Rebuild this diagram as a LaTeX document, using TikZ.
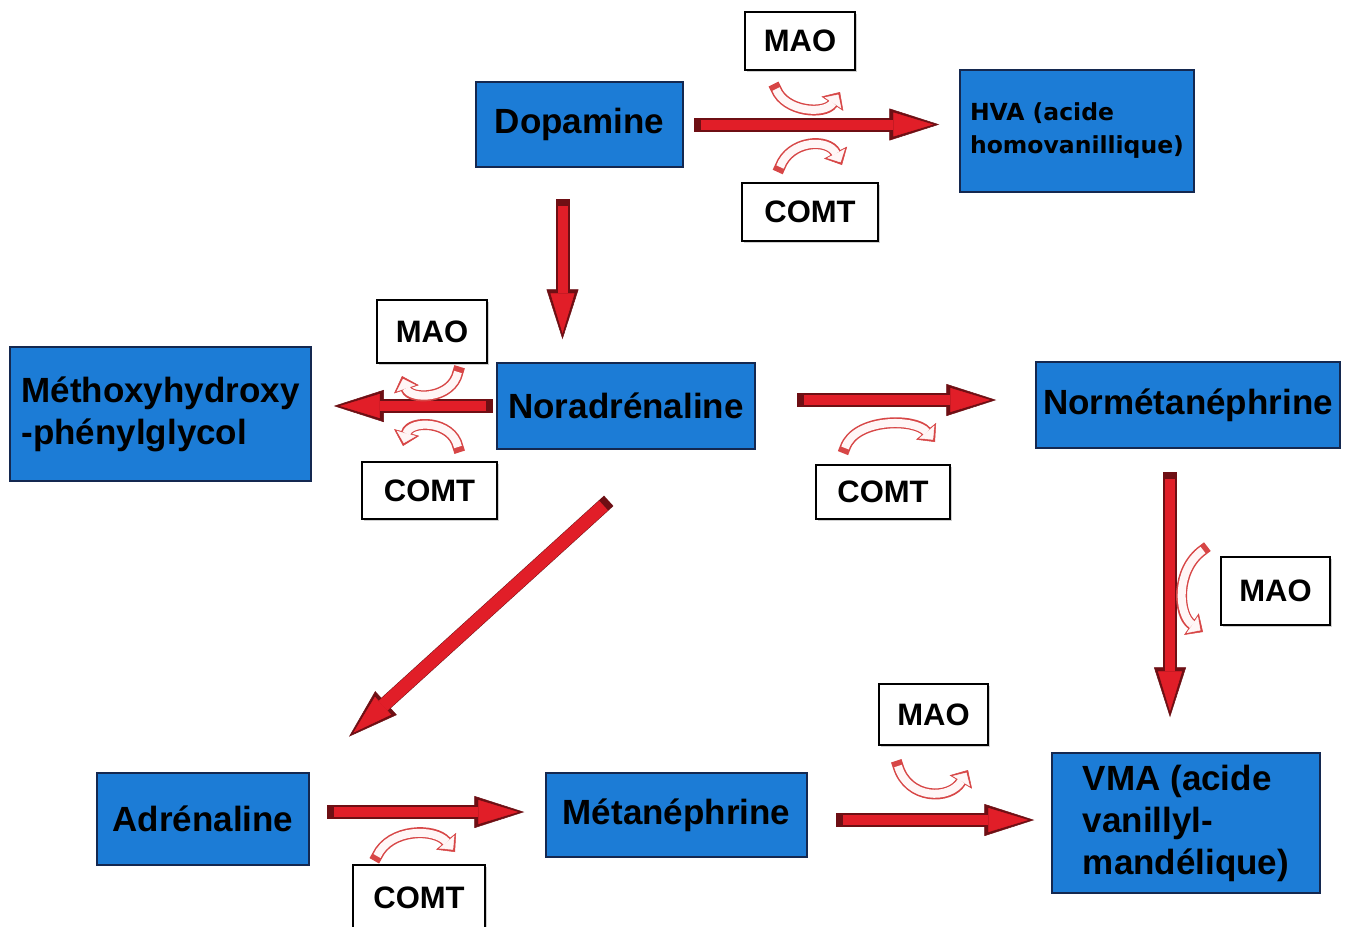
\documentclass[tikz,border=0pt]{standalone}
\usepackage{fontspec}
\setmainfont{Liberation Sans}
\newfontfamily\hvafont{DejaVu Sans}
\usetikzlibrary{arrows.meta,shadows}
\begin{document}
\begin{tikzpicture}[x=1pt,y=-1pt,
  cmpd/.style={draw=boxedge,line width=1.5pt,fill=boxblue,text=black,inner sep=0pt,
    font=\fontsize{35}{42}\selectfont\bfseries},
  enz/.style={draw=black,line width=1.5pt,fill=white,inner sep=0pt,
    font=\fontsize{31}{36}\selectfont\bfseries,
    drop shadow={shadow xshift=2pt,shadow yshift=-2pt,fill=black!30,opacity=0.6}},
  flow/.style={draw=flowred,line width=10pt,-{Triangle[length=40pt,width=24pt,sep=6pt,line width=0.5pt]},
    preaction={draw=flowdark,line width=14pt,line cap=rect,-{Triangle[length=50pt,width=32pt,line width=0.5pt]}}},
  curv/.style={draw=curvfill,line width=8pt,-{Triangle[length=10pt,width=20pt,sep=3pt,line width=0.5pt]},
    preaction={draw=curvred,line width=11pt,line cap=rect,-{Triangle[length=14pt,width=26pt,line width=0.5pt]}}}]
\definecolor{boxblue}{RGB}{28,124,214}
\definecolor{boxedge}{RGB}{20,40,80}
\definecolor{flowred}{RGB}{225,30,40}
\definecolor{flowdark}{RGB}{110,15,20}
\definecolor{curvred}{RGB}{215,70,70}
\definecolor{curvfill}{RGB}{255,246,246}
\path[use as bounding box,fill=white] (0,0) rectangle (1353,927);

\node[cmpd,minimum width=207pt,minimum height=85pt] (dopa) at (579.5,124.5) {Dopamine};
\node[cmpd,minimum width=234pt,minimum height=122pt,align=left,font=\hvafont\fontsize{23.5}{33}\selectfont\bfseries] (hva) at (1077,131) {HVA (acide\\homovanillique)};
\node[cmpd,minimum width=258pt,minimum height=86pt] (nor) at (626,406) {Noradrénaline};
\node[cmpd,minimum width=301pt,minimum height=134pt,align=left] (meth) at (160.5,414) {Méthoxyhydroxy\\-phénylglycol};
\node[cmpd,minimum width=304pt,minimum height=86pt] (normet) at (1188,405) {Normétanéphrine};
\node[cmpd,minimum width=212pt,minimum height=92pt] (adr) at (203,819) {Adrénaline};
\node[cmpd,minimum width=261pt,minimum height=84pt] (met) at (676.5,815) {Métanéphrine};
\node[cmpd,minimum width=268pt,minimum height=140pt,align=left] (vma) at (1186,823) {VMA (acide\\vanillyl-\\mandélique)};

\node[enz,minimum width=110pt,minimum height=58pt] (mao1) at (800,41) {MAO};
\node[enz,minimum width=136pt,minimum height=58pt] (comt1) at (810,212) {COMT};
\node[enz,minimum width=110pt,minimum height=63pt] (mao2) at (432,331.5) {MAO};
\node[enz,minimum width=135pt,minimum height=57pt] (comt2) at (429.5,490.5) {COMT};
\node[enz,minimum width=134pt,minimum height=54pt] (comt3) at (883,492) {COMT};
\node[enz,minimum width=109pt,minimum height=68pt] (mao3) at (1275.5,591) {MAO};
\node[enz,minimum width=109pt,minimum height=61pt] (mao4) at (933.5,714.5) {MAO};
\node[enz,minimum width=132pt,minimum height=66pt] (comt4) at (419,898) {COMT};

\draw[flow,shorten <=17pt,shorten >=20pt] (dopa.east) -- (dopa.east -| hva.west);
\draw[flow,shorten <=38pt,shorten >=23pt] ([xshift=-17pt]dopa.south) -- ([xshift=-17pt]dopa.south |- nor.north);
\draw[flow,shorten <=10pt,shorten >=22pt] (nor.west) -- (nor.west -| meth.east);
\draw[flow,shorten <=48pt,shorten >=39pt] ([yshift=6pt]nor.east) -- ([yshift=6pt]nor.east -| normet.west);
\draw[flow,line width=13pt,shorten <=83pt,shorten >=53pt] ([xshift=39pt]nor.south) -- (adr.north east);
\draw[flow,shorten <=30pt,shorten >=35pt] ([xshift=-18pt]normet.south) -- ([xshift=-18pt]normet.south |- vma.north);
\draw[flow,shorten <=24pt,shorten >=21pt] ([yshift=7pt]adr.east) -- ([yshift=7pt]adr.east -| met.west);
\draw[flow,shorten <=35pt,shorten >=17pt] ([yshift=-5pt]met.east) -- ([yshift=-5pt]met.east -| vma.west);

\draw[curv] (776,89) .. controls (785,112) and (825,115) .. (840,92);
\draw[curv] (780,167) .. controls (790,140) and (828,138) .. (842,165);
\draw[curv] (458,372) .. controls (452,400) and (410,400) .. (402,376);
\draw[curv] (458,447) .. controls (452,420) and (410,420) .. (403,446);
\draw[curv] (845,448) .. controls (855,418) and (915,418) .. (935,442);
\draw[curv] (1203,550) .. controls (1175,570) and (1178,615) .. (1203,632);
\draw[curv] (898,766) .. controls (908,800) and (950,800) .. (968,770);
\draw[curv] (377,856) .. controls (390,828) and (435,828) .. (455,852);
\end{tikzpicture}
\end{document}
